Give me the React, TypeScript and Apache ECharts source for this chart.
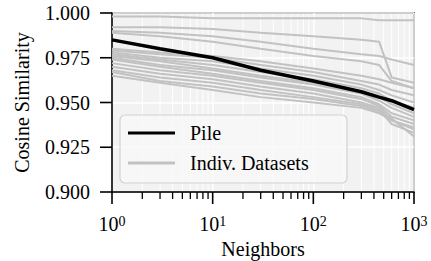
import React, { useEffect, useRef } from "react";
import * as echarts from "echarts";

const neighbors = [1, 3, 10, 30, 100, 300, 450, 600, 1000];
const pile = [0.985, 0.98, 0.975, 0.968, 0.962, 0.956, 0.953, 0.951, 0.946];
const indiv: number[][] = [
  [0.998, 0.998, 0.997, 0.997, 0.997, 0.997, 0.996, 0.996, 0.996],
  [0.992, 0.992, 0.991, 0.989, 0.987, 0.985, 0.984, 0.964, 0.961],
  [0.99, 0.989, 0.987, 0.984, 0.98, 0.977, 0.976, 0.974, 0.971],
  [0.989, 0.987, 0.984, 0.98, 0.976, 0.973, 0.971, 0.962, 0.958],
  [0.98, 0.978, 0.976, 0.973, 0.969, 0.965, 0.963, 0.961, 0.958],
  [0.979, 0.977, 0.975, 0.971, 0.967, 0.962, 0.96, 0.957, 0.954],
  [0.978, 0.975, 0.973, 0.969, 0.965, 0.96, 0.957, 0.954, 0.95],
  [0.977, 0.974, 0.971, 0.967, 0.963, 0.958, 0.955, 0.951, 0.947],
  [0.976, 0.973, 0.969, 0.965, 0.961, 0.956, 0.953, 0.949, 0.944],
  [0.975, 0.971, 0.968, 0.964, 0.96, 0.955, 0.951, 0.947, 0.942],
  [0.974, 0.97, 0.966, 0.962, 0.958, 0.953, 0.949, 0.944, 0.94],
  [0.972, 0.968, 0.965, 0.961, 0.957, 0.952, 0.948, 0.942, 0.938],
  [0.97, 0.966, 0.963, 0.959, 0.955, 0.95, 0.947, 0.94, 0.936],
  [0.968, 0.964, 0.961, 0.957, 0.953, 0.949, 0.946, 0.938, 0.933],
  [0.967, 0.962, 0.959, 0.955, 0.952, 0.948, 0.945, 0.941, 0.931],
  [0.965, 0.961, 0.957, 0.953, 0.95, 0.947, 0.944, 0.94, 0.935],
];
const majorTicks = [1, 10, 100, 1000];
const minorTicks = [2, 3, 4, 5, 6, 7, 8, 9, 20, 30, 40, 50, 60, 70, 80, 90, 200, 300, 400, 500, 600, 700, 800, 900];
const yTicks = [0.9, 0.925, 0.95, 0.975, 1.0];
const yMin = 0.9;
const yMax = 1.0;

const FONT = "Liberation Serif";

export default function App() {
  const ref = useRef<HTMLDivElement>(null);
  useEffect(() => {
    document.body.style.margin = "0";
    const chart = echarts.init(ref.current!, null, { renderer: "svg" });
    const pair = (vals: number[]) => neighbors.map((x, i) => [x, vals[i]]);
    const series: any[] = [];
    indiv.forEach((vals) =>
      series.push({
        name: "Indiv. Datasets",
        type: "line",
        data: pair(vals),
        symbol: "none",
        lineStyle: { color: "#c2c2c2", width: 2 },
        itemStyle: { color: "#c2c2c2" },
        z: 2,
      })
    );
    series.push({
      name: "Pile",
      type: "line",
      data: pair(pile),
      symbol: "none",
      lineStyle: { color: "#000", width: 3.5 },
      itemStyle: { color: "#000" },
      z: 3,
    });
    const legendBox = {
      type: "rect",
      shape: { x: 120, y: 115, width: 227, height: 68, r: 5 },
      style: { fill: "rgba(248,248,248,0.85)", stroke: "#d2d2d2", lineWidth: 1.2 },
      z: 4,
    };
    chart.setOption({
      animation: false,
      textStyle: { fontFamily: FONT },
      grid: {
        left: 112,
        right: 17,
        top: 13,
        bottom: 69,
        outerBoundsMode: "none",
        containLabel: false,
        show: true,
        backgroundColor: "#f2f2f2",
        borderColor: "#000",
        borderWidth: 1.5,
      },
      xAxis: {
        type: "log",
        logBase: 10,
        min: 1,
        max: 1000,
        name: "Neighbors",
        nameLocation: "middle",
        nameGap: 37,
        nameTextStyle: { fontFamily: FONT, fontSize: 20, color: "#000" },
        axisLine: { show: true, lineStyle: { color: "#000", width: 1.5 } },
        axisTick: { show: false },
        axisLabel: {
          margin: 22,
          fontFamily: FONT,
          color: "#000",
          formatter: (v: number) => `{b|10}{s|${Math.round(Math.log10(v))}}`,
          rich: {
            b: { fontFamily: FONT, fontSize: 20, color: "#000" },
            s: { fontFamily: FONT, fontSize: 14, color: "#000", verticalAlign: "top" },
          },
        },
        splitLine: { show: true, lineStyle: { color: "#fff", width: 1.5 } },
      },
      yAxis: {
        type: "value",
        min: yMin,
        max: yMax,
        interval: 0.025,
        name: "Cosine Similarity",
        nameLocation: "middle",
        nameGap: 80,
        nameTextStyle: { fontFamily: FONT, fontSize: 20, color: "#000" },
        axisLine: { show: true, lineStyle: { color: "#000", width: 1.5 } },
        axisTick: { show: false },
        axisLabel: {
          margin: 22,
          fontFamily: FONT,
          fontSize: 20,
          color: "#000",
          formatter: (v: number) => v.toFixed(3),
        },
        splitLine: { show: true, lineStyle: { color: "#fff", width: 1.5 } },
      },
      legend: {
        data: ["Pile", "Indiv. Datasets"],
        orient: "vertical",
        left: 128,
        top: 123,
        padding: 0,
        itemWidth: 47,
        itemHeight: 3,
        itemGap: 10,
        icon: "rect",
        textStyle: { fontFamily: FONT, fontSize: 20, color: "#000", lineHeight: 20, padding: [0, 0, 0, 10] },
        z: 5,
      },
      graphic: [legendBox],
      series,
    });
    const extra: any[] = [];
    const tickLine = (x1: number, y1: number, x2: number, y2: number, w: number, color: string, z: number) => ({
      type: "line",
      z,
      silent: true,
      shape: { x1, y1, x2, y2 },
      style: { stroke: color, lineWidth: w },
    });
    minorTicks.forEach((v) => {
      const b = chart.convertToPixel({ xAxisIndex: 0, yAxisIndex: 0 }, [v, yMin]) as number[];
      const t = chart.convertToPixel({ xAxisIndex: 0, yAxisIndex: 0 }, [v, yMax]) as number[];
      extra.push(tickLine(b[0], t[1] + 1, b[0], b[1] - 1, 1, "#ffffff", 0));
      extra.push(tickLine(b[0], b[1], b[0], b[1] + 7, 1.3, "#000000", 10));
    });
    majorTicks.forEach((v) => {
      const b = chart.convertToPixel({ xAxisIndex: 0, yAxisIndex: 0 }, [v, yMin]) as number[];
      extra.push(tickLine(b[0], b[1], b[0], b[1] + 12, 1.6, "#000000", 10));
    });
    yTicks.forEach((v) => {
      const b = chart.convertToPixel({ xAxisIndex: 0, yAxisIndex: 0 }, [1, v]) as number[];
      extra.push(tickLine(b[0] - 12, b[1], b[0], b[1], 1.6, "#000000", 10));
    });
    chart.setOption({ graphic: [legendBox, ...extra] });
    return () => chart.dispose();
  }, []);
  return <div ref={ref} style={{ width: 431, height: 261 }} />;
}
